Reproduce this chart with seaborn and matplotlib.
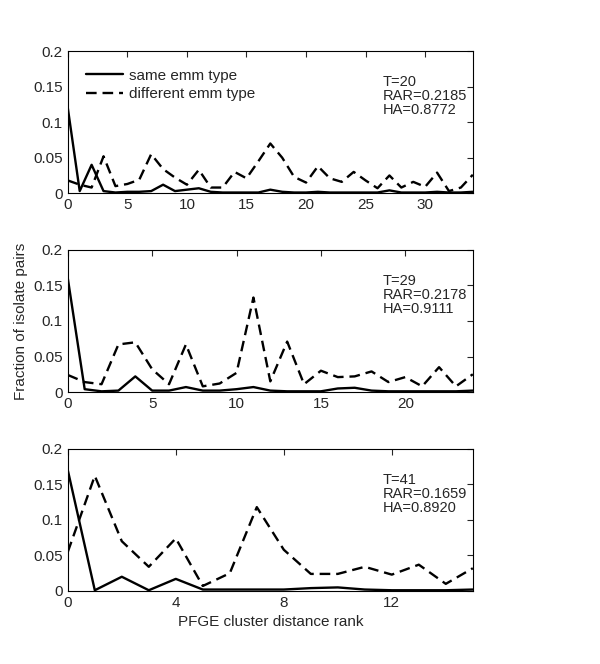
import numpy as np
import pandas as pd
import matplotlib
matplotlib.use('Agg')
import matplotlib.pyplot as plt
import seaborn as sns

# panel 1 (T=20)
same_1 = [0.12, 0.003, 0.04, 0.003, 0.001, 0.002, 0.002, 0.003, 0.012, 0.003, 0.005, 0.007,
          0.002, 0.001, 0.001, 0.001, 0.001, 0.005, 0.002, 0.001, 0.001, 0.002, 0.001, 0.001,
          0.001, 0.001, 0.001, 0.004, 0.001, 0.001, 0.001, 0.002, 0.001, 0.001, 0.002]
diff_1 = [0.018, 0.012, 0.008, 0.052, 0.01, 0.013, 0.019, 0.055, 0.034, 0.022, 0.012, 0.033,
          0.008, 0.008, 0.03, 0.021, 0.045, 0.07, 0.05, 0.023, 0.015, 0.038, 0.021, 0.016,
          0.03, 0.018, 0.007, 0.025, 0.008, 0.016, 0.009, 0.029, 0.003, 0.008, 0.026]
# panel 2 (T=29)
same_2 = [0.16, 0.004, 0.001, 0.002, 0.022, 0.002, 0.002, 0.007, 0.002, 0.002, 0.004, 0.007,
          0.002, 0.001, 0.001, 0.001, 0.005, 0.006, 0.002, 0.001, 0.001, 0.001, 0.001, 0.001, 0.002]
diff_2 = [0.024, 0.014, 0.011, 0.067, 0.07, 0.032, 0.011, 0.067, 0.008, 0.012, 0.027, 0.133,
          0.015, 0.071, 0.011, 0.03, 0.021, 0.022, 0.029, 0.014, 0.021, 0.008, 0.035, 0.008, 0.025]
# panel 3 (T=41)
same_3 = [0.17, 0.001, 0.02, 0.001, 0.017, 0.002, 0.002, 0.002, 0.002, 0.004, 0.005, 0.002,
          0.001, 0.001, 0.001, 0.002]
diff_3 = [0.055, 0.162, 0.07, 0.034, 0.074, 0.007, 0.025, 0.118, 0.058, 0.024, 0.024, 0.034,
          0.023, 0.037, 0.01, 0.032]

stats = ['T=20\nRAR=0.2185\nHA=0.8772',
         'T=29\nRAR=0.2178\nHA=0.9111',
         'T=41\nRAR=0.1659\nHA=0.8920']
xticks = [[0, 5, 10, 15, 20, 25, 30], [0, 5, 10, 15, 20], [0, 4, 8, 12]]

sns.set_style('white')
plt.rcParams['font.family'] = ['Liberation Sans', 'DejaVu Sans']
plt.rcParams['font.size'] = 11

fig = plt.figure(figsize=(6, 6.64), dpi=100)
bottoms = [0.709, 0.4096, 0.110]
panels = [(same_1, diff_1), (same_2, diff_2), (same_3, diff_3)]

for i, (same, diff) in enumerate(panels):
    ax = fig.add_axes([0.113, bottoms[i], 0.675, 0.214])
    rank = np.arange(len(same))
    df = pd.DataFrame({'rank': np.concatenate([rank, rank]),
                       'frac': same + diff,
                       'kind': ['same emm type'] * len(same) + ['different emm type'] * len(diff)})
    sns.lineplot(data=df, x='rank', y='frac', style='kind', color='black', linewidth=1.7,
                 dashes={'same emm type': '', 'different emm type': (4.5, 2.5)}, ax=ax,
                 legend=(i == 0))
    ax.set_xlim(0, len(same) - 1)
    ax.set_ylim(0, 0.2)
    ax.set_xticks(xticks[i])
    ax.set_yticks([0, 0.05, 0.1, 0.15, 0.2])
    ax.set_yticklabels(['0', '0.05', '0.1', '0.15', '0.2'])
    ax.tick_params(direction='in', top=True, right=True, length=4, width=0.8, labelsize=11)
    for s in ax.spines.values():
        s.set_color('black')
        s.set_linewidth(0.8)
    ax.set_xlabel('')
    ax.set_ylabel('')
    ax.text(0.778, 0.83, stats[i], transform=ax.transAxes, va='top', ha='left',
            fontsize=10.5, linespacing=0.98)
    if i == 0:
        ax.legend(loc='upper left', frameon=False, fontsize=11, handlelength=2.4,
                  handletextpad=0.4, labelspacing=0.3,
                  bbox_to_anchor=(0.03, 0.92), borderaxespad=0)
    if i == 1:
        ax.set_ylabel('Fraction of isolate pairs', fontsize=11)
    if i == 2:
        ax.set_xlabel('PFGE cluster distance rank', fontsize=11)

plt.savefig('out.png', dpi=100)
